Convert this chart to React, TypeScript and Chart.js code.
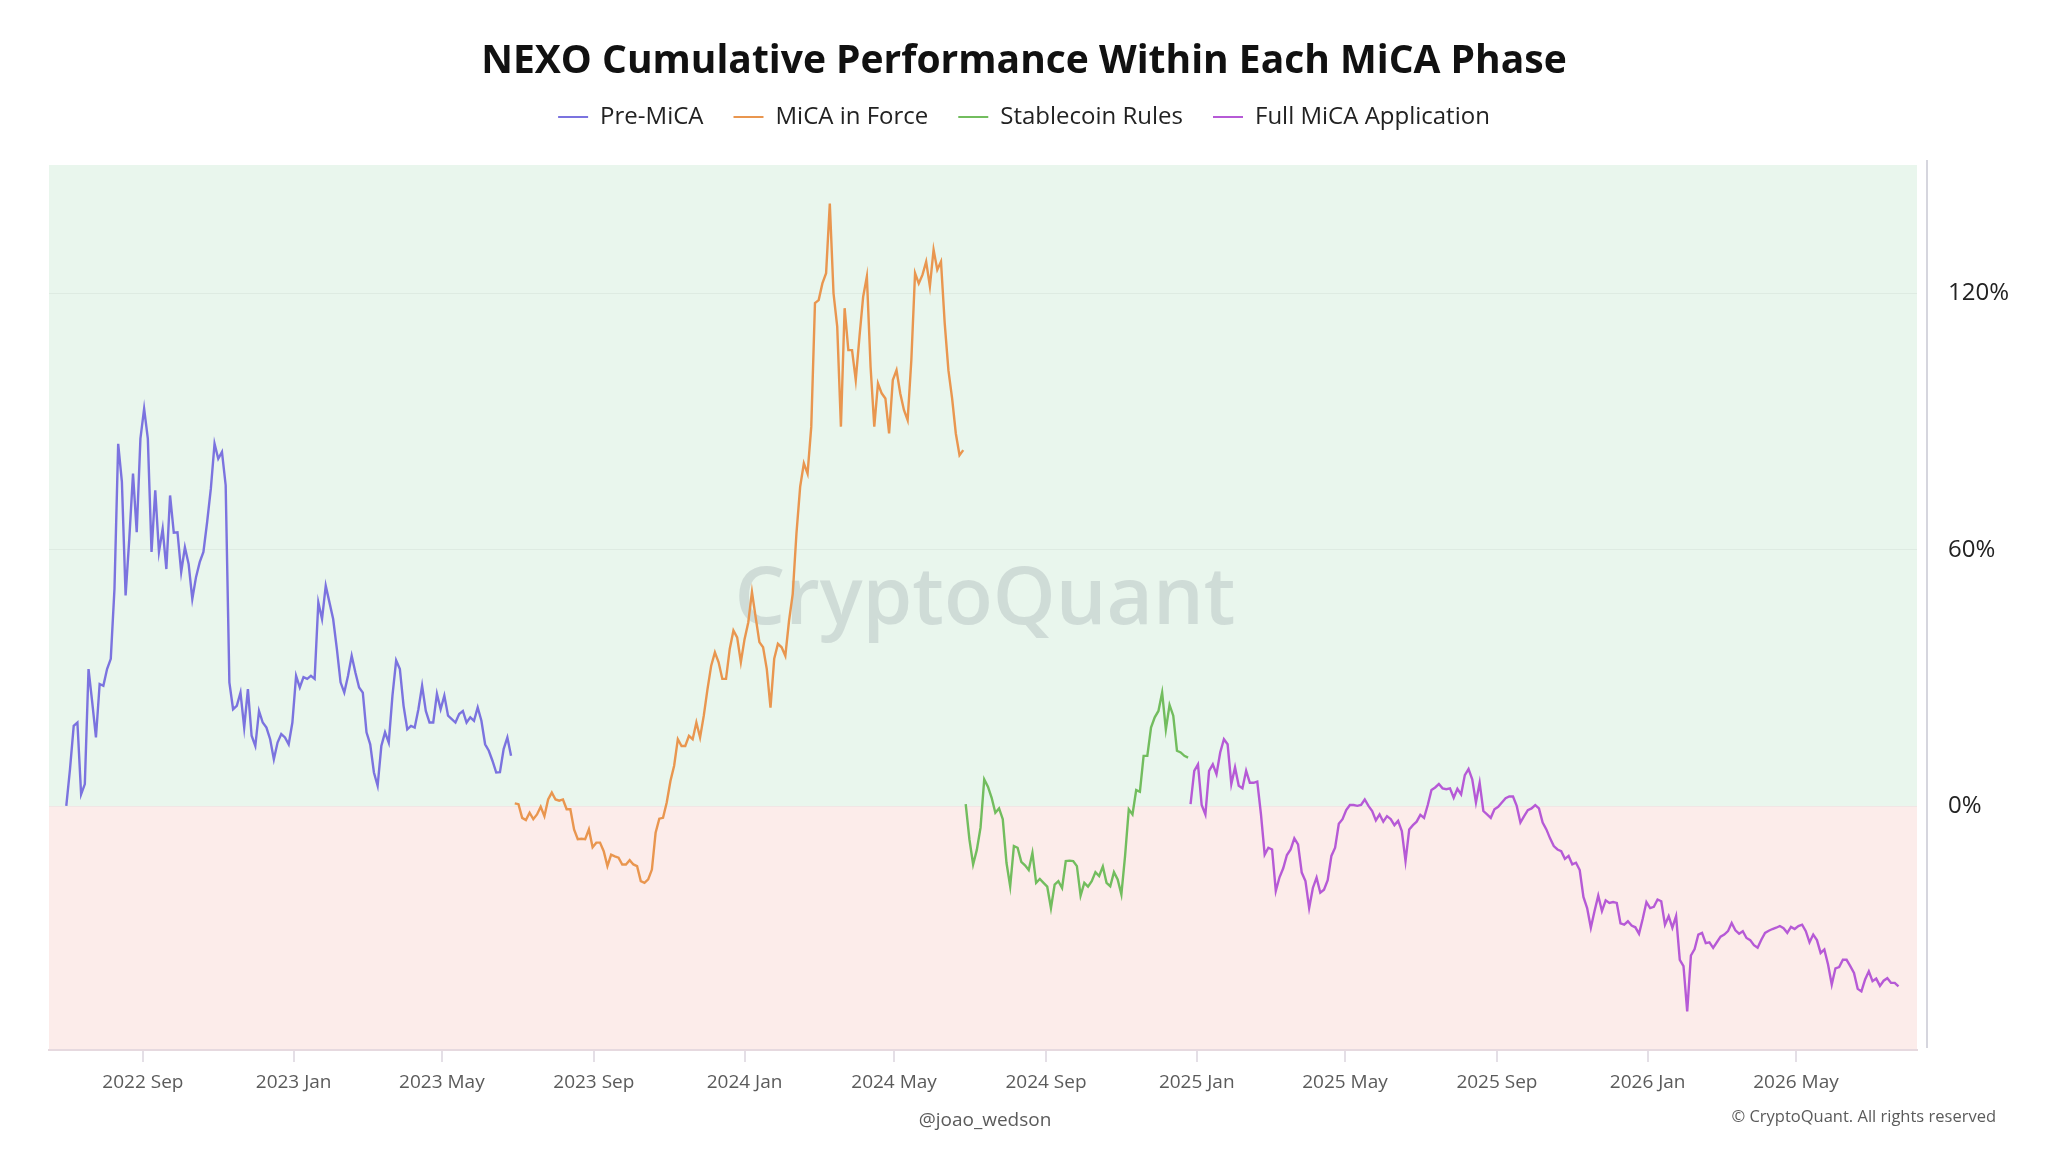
import { useEffect, useRef } from 'react';
import { Chart, registerables } from 'chart.js';

Chart.register(...registerables);

// cumulative % return, one value every 3 days from the start of each phase
const stepDays = 3;

const preMicaStart = '2022-07-01';
const preMicaValues = [
  0.1, 8.7, 18.8, 19.6, 2.8, 5.2, 32.1, 24.3, 16.1, 28.6,
  28.2, 32.1, 34.5, 50.9, 84.8, 75.9, 49.3, 62.6, 77.8, 64.1,
  86.0, 93.0, 86.0, 59.5, 73.9, 59.5, 64.9, 55.5, 72.7, 64.0,
  64.1, 54.8, 60.6, 56.7, 48.5, 53.6, 57.1, 59.5, 66.5, 74.3,
  84.8, 81.3, 82.9, 75.1, 29.0, 22.7, 23.5, 26.6, 18.4, 27.4,
  16.5, 14.1, 22.3, 19.6, 18.4, 15.7, 11.0, 14.9, 16.9, 16.1,
  14.5, 19.6, 30.5, 27.8, 30.2, 29.8, 30.5, 29.8, 47.7, 43.8,
  51.6, 47.7, 43.8, 36.8, 29.0, 26.6, 30.5, 35.2, 31.3, 27.8,
  26.6, 17.3, 14.5, 7.9, 4.8, 14.1, 17.3, 14.9, 25.9, 34.1,
  32.1, 23.5, 18.0, 18.8, 18.4, 22.7, 28.2, 22.3, 19.6, 19.6,
  26.3, 22.7, 25.9, 21.2, 20.4, 19.6, 21.6, 22.3, 19.6, 20.8,
  20.0, 23.1, 20.0, 14.5, 13.0, 10.6, 7.9, 8.0, 13.4, 16.1,
  11.8,
];

const micaInForceStart = '2023-06-29';
const micaInForceValues = [
  0.7, 0.5, -2.7, -3.2, -1.5, -3.0, -1.9, -0.1, -2.3, 1.6,
  3.2, 1.6, 1.3, 1.6, -0.7, -0.7, -5.4, -7.7, -7.6, -7.7,
  -5.4, -9.6, -8.5, -8.5, -10.5, -14.0, -11.3, -11.7, -12.0, -13.6,
  -13.6, -12.6, -13.6, -14.0, -17.5, -17.9, -17.1, -14.8, -6.2, -2.9,
  -2.7, 0.9, 5.9, 9.5, 15.7, 14.1, 14.1, 16.5, 15.7, 19.6,
  16.1, 21.2, 27.4, 32.9, 36.0, 33.7, 29.8, 29.8, 36.8, 41.1,
  39.5, 33.7, 39.1, 43.0, 50.1, 44.2, 38.4, 37.2, 32.1, 23.1,
  34.5, 38.0, 37.2, 35.2, 43.4, 49.7, 63.8, 74.7, 80.2, 77.8,
  88.8, 117.7, 118.4, 122.3, 124.7, 141.0, 120.0, 112.2, 88.8, 116.5,
  106.7, 106.7, 99.7, 109.8, 119.2, 123.9, 102.8, 88.8, 98.9, 96.6,
  95.4, 87.2, 99.7, 102.0, 96.6, 92.7, 90.3, 104.4, 124.7, 122.3,
  124.3, 127.4, 121.6, 130.2, 125.5, 127.4, 113.0, 102.0, 95.4, 87.2,
  82.1, 83.3,
];

const stablecoinStart = '2024-06-28';
const stablecoinValues = [
  0.5, -7.7, -13.6, -10.2, -5.0, 6.3, 4.6, 2.0, -1.5, -0.5,
  -3.0, -13.2, -18.7, -9.3, -9.7, -13.0, -13.8, -14.9, -10.9, -17.9,
  -17.0, -17.9, -18.8, -23.8, -18.3, -17.5, -19.1, -12.8, -12.7, -12.8,
  -14.0, -20.9, -17.9, -18.8, -17.5, -15.4, -16.3, -14.1, -17.9, -18.7,
  -15.4, -17.1, -20.6, -11.6, -0.7, -1.9, 3.8, 3.4, 11.8, 11.8,
  18.4, 20.8, 22.3, 26.6, 18.0, 23.7, 21.2, 13.0, 12.6, 11.8,
  11.4,
];

const fullMicaStart = '2024-12-27';
const fullMicaValues = [
  0.5, 8.3, 9.8, 0.3, -1.9, 8.3, 9.8, 7.5, 12.6, 15.7,
  14.5, 5.2, 9.1, 4.8, 4.2, 8.3, 5.5, 5.5, 5.8, -1.9,
  -11.3, -9.7, -10.1, -19.8, -16.6, -14.5, -11.4, -10.1, -7.5, -8.9,
  -15.5, -17.5, -23.8, -19.1, -16.7, -20.2, -19.5, -17.3, -11.6, -9.7,
  -4.1, -3.0, -0.9, 0.3, 0.3, 0.1, 0.3, 1.6, 0.1, -1.1,
  -3.3, -1.9, -3.6, -2.3, -3.0, -4.4, -3.4, -5.8, -12.8, -5.4,
  -4.4, -3.6, -2.0, -2.7, 0.3, 3.8, 4.4, 5.2, 4.2, 4.0,
  4.2, 2.0, 4.1, 2.8, 7.3, 8.7, 6.3, 0.9, 5.5, -1.1,
  -1.9, -2.7, -0.7, -0.1, 0.9, 1.9, 2.3, 2.3, 0.1, -3.8,
  -2.3, -0.9, -0.5, 0.3, -0.5, -3.8, -5.4, -7.5, -9.3, -10.1,
  -10.5, -12.3, -11.6, -13.6, -13.2, -14.9, -21.2, -23.8, -28.4, -24.5,
  -20.9, -24.5, -22.0, -22.6, -22.4, -22.6, -27.4, -27.7, -26.9, -27.9,
  -28.3, -29.8, -26.3, -22.4, -23.8, -23.5, -21.8, -22.2, -27.7, -25.7,
  -28.4, -25.7, -35.9, -37.4, -48.0, -34.9, -33.4, -30.0, -29.6, -32.0,
  -31.8, -33.1, -31.8, -30.5, -30.0, -29.2, -27.3, -29.0, -29.8, -29.2,
  -30.8, -31.3, -32.5, -33.1, -31.2, -29.6, -29.1, -28.7, -28.4, -28.0,
  -28.5, -29.6, -28.2, -28.7, -28.0, -27.7, -29.2, -31.8, -30.0, -31.3,
  -34.3, -33.5, -37.0, -41.7, -37.9, -37.6, -35.9, -35.9, -37.4, -39.0,
  -42.7, -43.3, -40.5, -38.6, -40.9, -40.3, -42.0, -40.8, -40.2, -41.3,
  -41.3, -42.1,
];

const seriesLabels = ['Pre-MiCA', 'MiCA in Force', 'Stablecoin Rules', 'Full MiCA Application'];
const seriesColors = ['#7b73df', '#e9964f', '#72bd5e', '#b65ad6'];

const xTickLabels = [
  '2022 Sep', '2023 Jan', '2023 May', '2023 Sep', '2024 Jan', '2024 May',
  '2024 Sep', '2025 Jan', '2025 May', '2025 Sep', '2026 Jan', '2026 May',
];
const xRange = ['2022-06-17', '2026-08-07'];
const yTickValues = [0, 60, 120];
const yRange = [-57, 150];

const MONTHS = ['Jan', 'Feb', 'Mar', 'Apr', 'May', 'Jun', 'Jul', 'Aug', 'Sep', 'Oct', 'Nov', 'Dec'];
const DAY = 86400000;

const dayOf = (iso: string) => Date.parse(iso + 'T00:00:00Z') / DAY;
const tickDay = (label: string) => {
  const [y, m] = label.split(' ');
  return Date.UTC(Number(y), MONTHS.indexOf(m), 1) / DAY;
};
const toPoints = (start: string, values: number[]) =>
  values.map((v, i) => ({ x: dayOf(start) + i * stepDays, y: v }));

const FONT = "'Open Sans', 'Noto Sans', sans-serif";

const bandsPlugin = {
  id: 'bands',
  beforeDraw(chart: any) {
    const { ctx, chartArea: a, scales } = chart;
    const zero = scales.y.getPixelForValue(0);
    ctx.save();
    ctx.fillStyle = 'rgb(233,246,237)';
    ctx.fillRect(a.left, a.top, a.right - a.left, zero - a.top);
    ctx.fillStyle = 'rgb(252,236,234)';
    ctx.fillRect(a.left, zero, a.right - a.left, a.bottom - zero);
    ctx.restore();
  },
  beforeDatasetsDraw(chart: any) {
    const { ctx, chartArea: a } = chart;
    ctx.save();
    ctx.font = `600 80px ${FONT}`;
    ctx.fillStyle = 'rgba(150,160,165,0.3)';
    ctx.textAlign = 'center';
    ctx.textBaseline = 'middle';
    ctx.fillText('CryptoQuant', (a.left + a.right) / 2 + 2, 601);
    ctx.restore();
  },
  afterDraw(chart: any) {
    const { ctx, chartArea: a, width } = chart;
    ctx.save();
    ctx.strokeStyle = '#d6d6de';
    ctx.lineWidth = 2;
    ctx.beginPath();
    ctx.moveTo(a.right + 10, a.top - 5);
    ctx.lineTo(a.right + 10, a.bottom - 2);
    ctx.stroke();

    ctx.fillStyle = '#5b5b5b';
    ctx.textBaseline = 'middle';
    ctx.font = `19px ${FONT}`;
    ctx.textAlign = 'center';
    ctx.fillText('@joao_wedson', (a.left + a.right) / 2 + 2, 1121);
    ctx.font = `16.5px ${FONT}`;
    ctx.textAlign = 'right';
    ctx.fillText('© CryptoQuant. All rights reserved', width - 52, 1117);
    ctx.restore();
  },
};

// extra room between legend and plot
const legendGapPlugin = {
  id: 'legendGap',
  beforeInit(chart: any) {
    const legend = chart.legend;
    if (!legend) return;
    const fit = legend.fit;
    legend.fit = function () {
      fit.call(this);
      this.height += 26;
    };
  },
};

const App = () => {
  const chartRef = useRef<HTMLCanvasElement>(null);

  useEffect(() => {
    document.body.style.margin = '0';
    if (!chartRef.current) return;

    const phases = [
      toPoints(preMicaStart, preMicaValues),
      toPoints(micaInForceStart, micaInForceValues),
      toPoints(stablecoinStart, stablecoinValues),
      toPoints(fullMicaStart, fullMicaValues),
    ];

    Chart.defaults.font.family = FONT;

    const myChart = new Chart(chartRef.current, {
      type: 'line',
      data: {
        datasets: phases.map((data, i) => ({
          label: seriesLabels[i],
          data,
          borderColor: seriesColors[i],
          backgroundColor: seriesColors[i],
          borderWidth: 2.4,
          pointRadius: 0,
          tension: 0,
        })),
      },
      options: {
        animation: false,
        responsive: true,
        maintainAspectRatio: false,
        layout: { padding: 0 },
        plugins: {
          title: {
            display: true,
            text: 'NEXO Cumulative Performance Within Each MiCA Phase',
            color: '#111',
            font: { size: 39, weight: 'bold' },
            padding: { top: 38.6, bottom: -10.4 },
          },
          legend: {
            position: 'top',
            labels: {
              color: '#222',
              font: { size: 24 },
              boxWidth: 30,
              boxHeight: 2,
              padding: 30,
              generateLabels: (chart: any) =>
                Chart.defaults.plugins.legend.labels
                  .generateLabels(chart)
                  .map((l: any) => ({ ...l, lineWidth: 0 })),
            },
          },
          tooltip: { enabled: false },
        },
        scales: {
          x: {
            type: 'linear',
            min: dayOf(xRange[0]),
            max: dayOf(xRange[1]),
            afterBuildTicks: (scale: any) => {
              scale.ticks = xTickLabels.map((l) => ({ value: tickDay(l) }));
            },
            afterFit: (scale: any) => {
              scale.height = 102;
            },
            grid: { drawOnChartArea: false, tickLength: 12, color: '#e4dfe6', lineWidth: 2 },
            border: { color: '#e6d9df', width: 2 },
            ticks: {
              autoSkip: false,
              maxRotation: 0,
              padding: 9,
              color: '#5b5b5b',
              font: { size: 19 },
              callback: (v: any) => xTickLabels.find((l) => tickDay(l) === v) ?? '',
            },
          },
          y: {
            position: 'right',
            min: yRange[0],
            max: yRange[1],
            afterBuildTicks: (scale: any) => {
              scale.ticks = yTickValues.map((v) => ({ value: v }));
            },
            afterFit: (scale: any) => {
              scale.width = 131;
            },
            grid: { color: 'rgba(0,0,0,0.045)', drawTicks: false },
            border: { display: false },
            ticks: {
              padding: 31,
              color: '#222',
              font: { size: 24 },
              callback: (v: any) => `${v}%`,
            },
          },
          // empty left box that only reserves the left margin
          yLeft: {
            position: 'left',
            grid: { display: false },
            border: { display: false },
            ticks: { display: false },
            afterFit: (scale: any) => {
              scale.width = 49;
            },
          },
        },
      } as any,
      plugins: [bandsPlugin, legendGapPlugin],
    });

    return () => {
      myChart.destroy();
    };
  }, []);

  return (
    <div style={{ width: 2048, height: 1152, position: 'relative' }}>
      <canvas ref={chartRef} />
    </div>
  );
};

export default App;
